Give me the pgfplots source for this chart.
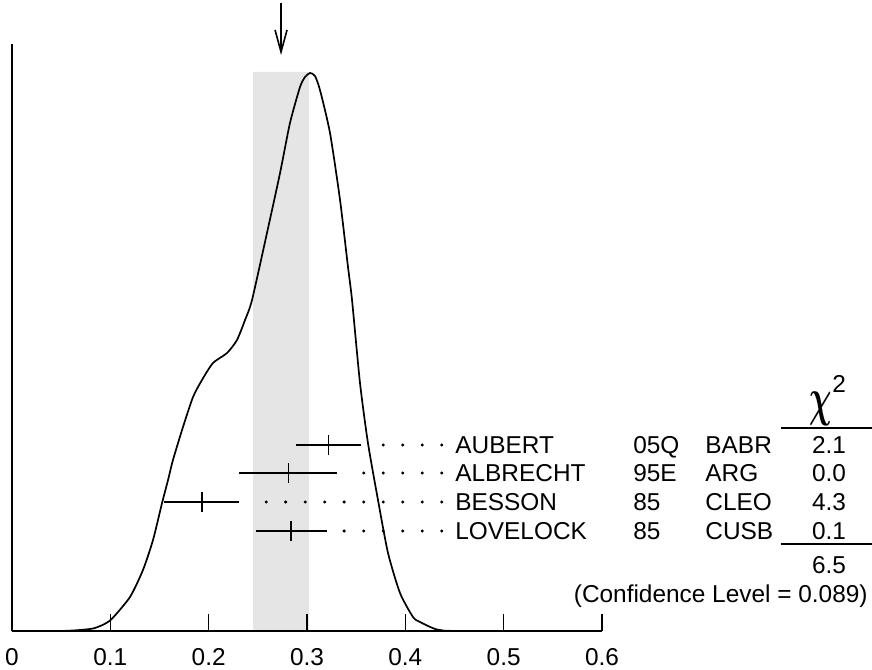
\documentclass[border=0pt]{standalone}
\usepackage{amsmath}
\usepackage{pgfplots}
\pgfplotsset{compat=1.18}
\usepackage{fontspec}
\setmainfont{Liberation Sans}
\usetikzlibrary{arrows.meta}

\begin{document}
\begin{tikzpicture}[font=\fontsize{12.2}{14}\selectfont]
\begin{axis}[
    scale only axis,
    width=295pt, height=293.5pt,
    xmin=0, xmax=0.6, ymin=0, ymax=587,
    axis x line=bottom, axis y line=left,
    axis line style={-, line width=0.8pt},
    ytick=\empty,
    xtick={0,0.1,0.2,0.3,0.4,0.5,0.6},
    xticklabels={0,0.1,0.2,0.3,0.4,0.5,0.6},
    tick align=inside,
    major tick length=8.5pt,
    tick style={line width=0.8pt, black},
    xticklabel style={font=\fontsize{12.2}{14}\selectfont, inner sep=0pt, anchor=north, yshift=-8.3pt},
    axis on top,
    clip=false,
    ]
% shaded band
\addplot[fill=black!10, draw=none] coordinates {(0.2451,0) (0.2451,559) (0.302,559) (0.302,0)} \closedcycle;
% ideogram curve
\addplot[line width=0.85pt, smooth, tension=0.4] coordinates {
 (0,0) (0.0488,0) (0.0692,1) (0.0824,2.5) (0.092,6) (0.1014,12) (0.120,34) (0.1332,61) (0.1434,91)
 (0.1526,128) (0.1587,151) (0.1637,171) (0.1739,204) (0.1841,234) (0.1932,251) (0.2044,268)
 (0.2187,278) (0.2288,291) (0.237,311) (0.2441,331) (0.2593,398) (0.2726,458) (0.2827,508)
 (0.2929,544) (0.298,554) (0.3031,558) (0.3081,555) (0.3132,541) (0.3234,498) (0.3336,431)
 (0.3417,364) (0.3458,331) (0.3539,248) (0.362,188) (0.3722,131) (0.3824,78) (0.3946,38)
 (0.4078,14) (0.4149,9) (0.4322,1.5) (0.4556,0) (0.6,0)};
% measurements
\addplot[only marks, mark=|, mark size=5pt, line width=0.8pt,
    error bars/.cd, x dir=both, x explicit, error mark=none,
    error bar style={line width=0.8pt}] coordinates {
 (0.322,186) +- (0.033,0)
 (0.281,158) +- (0.050,0)
 (0.193,129) +- (0.038,0)
 (0.284,100) +- (0.036,0)};
% dotted leaders
\addplot[only marks, mark=*, mark size=0.55pt] coordinates {
 (0.3775,186) (0.3973,186) (0.4172,186) (0.4370,186)
 (0.3577,158) (0.3775,158) (0.3973,158) (0.4172,158) (0.4370,158)
 (0.2585,129) (0.2783,129) (0.2982,129) (0.3180,129) (0.3378,129)
 (0.3577,129) (0.3775,129) (0.3973,129) (0.4172,129) (0.4370,129)
 (0.3378,100) (0.3577,100) (0.3775,100) (0.3973,100) (0.4172,100) (0.4370,100)};

% arrow at the mean
\draw[line width=0.8pt, -{Straight Barb[length=11pt, width=6pt]}] (axis cs:0.2736,628) -- (axis cs:0.2736,576);

% table
\tikzset{lab/.style={inner sep=0pt, anchor=base west}}
\node[lab] at (axis cs:0.4505,177) {AUBERT};
\node[lab] at (axis cs:0.4505,149) {ALBRECHT};
\node[lab] at (axis cs:0.4505,120.5) {BESSON};
\node[lab] at (axis cs:0.4505,91.5) {LOVELOCK};
\node[lab] at (axis cs:0.6315,177) {05Q};
\node[lab] at (axis cs:0.6315,149) {95E};
\node[lab] at (axis cs:0.6315,120.5) {85};
\node[lab] at (axis cs:0.6315,91.5) {85};
\node[lab] at (axis cs:0.7048,177) {BABR};
\node[lab] at (axis cs:0.7048,149) {ARG};
\node[lab] at (axis cs:0.7048,120.5) {CLEO};
\node[lab] at (axis cs:0.7048,91.5) {CUSB};
\tikzset{chi/.style={inner sep=0pt, anchor=base}}
\node[chi] at (axis cs:0.8309,177) {2.1};
\node[chi] at (axis cs:0.8309,149) {0.0};
\node[chi] at (axis cs:0.8309,120.5) {4.3};
\node[chi] at (axis cs:0.8309,91.5) {0.1};
\node[chi] at (axis cs:0.8309,58) {6.5};
\node[inner sep=0pt, anchor=base east] at (axis cs:0.8705,29) {(Confidence Level = 0.089)};
\node[inner sep=0pt, anchor=center] at (axis cs:0.8227,222.5) {\scalebox{1.3}[2.2]{$\boldsymbol{\chi}$}};
\node[inner sep=0pt, anchor=base west] at (axis cs:0.834,238) {2};
\draw[line width=0.8pt] (axis cs:0.782,202.7) -- (axis cs:0.8746,202.7);
\draw[line width=0.8pt] (axis cs:0.782,87) -- (axis cs:0.8746,87);

\coordinate (bbl) at (axis cs:-0.0122,-38);
\coordinate (btr) at (axis cs:0.8746,631);
\end{axis}
\pgfresetboundingbox
\path (bbl) rectangle (btr);
\end{tikzpicture}
\end{document}
